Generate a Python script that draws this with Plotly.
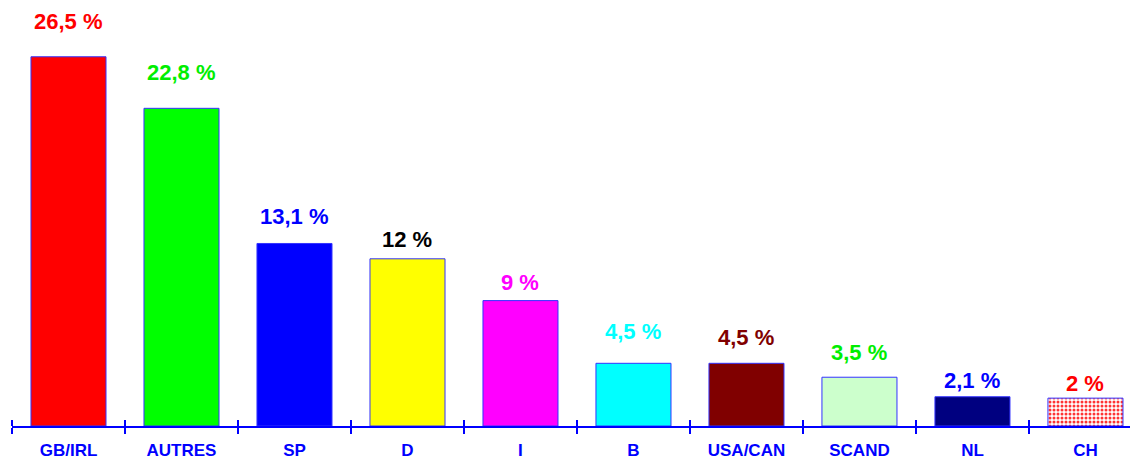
import plotly.graph_objects as go

categories = ['GB/IRL', 'AUTRES', 'SP', 'D', 'I', 'B', 'USA/CAN', 'SCAND', 'NL', 'CH']
values = [26.5, 22.8, 13.1, 12, 9, 4.5, 4.5, 3.5, 2.1, 2]
labels = ['26,5 %', '22,8 %', '13,1 %', '12 %', '9 %', '4,5 %', '4,5 %', '3,5 %', '2,1 %', '2 %']

bar_colors = ['#ff0000', '#00ff00', '#0000ff', '#ffff00', '#ff00ff',
              '#00ffff', '#800000', '#ccffcc', '#000080', '#ff3333']
label_colors = ['#ff0000', '#00ee00', '#0000ff', '#000000', '#ff00ff',
                '#00ffff', '#800000', '#00ee00', '#0000ff', '#ff0000']
# gap in px between bar top and label baseline
label_gap = [27, 27, 18, 11, 10, 23, 17, 16, 8, 6]

FONT = 'Liberation Sans, Arial, sans-serif'
AXIS_BLUE = '#0000ff'

shapes = [''] * 9 + ['.']
dot_bg = ['#fff2f2'] * 10

fig = go.Figure()
fig.add_trace(go.Bar(
    x=categories, y=values,
    marker=dict(color=bar_colors,
                line=dict(color='#3333ff', width=1),
                pattern=dict(shape=shapes, bgcolor=dot_bg,
                             size=4, solidity=0.45, fillmode='replace')),
    width=0.664, showlegend=False, hoverinfo='skip'))

# invisible twin axis giving the upward half of the tick marks
fig.add_trace(go.Bar(x=categories, y=values, xaxis='x2', opacity=0,
                     showlegend=False, hoverinfo='skip'))

for c, v, t, col, g in zip(categories, values, labels, label_colors, label_gap):
    fig.add_annotation(x=c, y=v, text='<b>%s</b>' % t, showarrow=False,
                       yanchor='bottom', yshift=g - 6,
                       font=dict(family=FONT, size=22, color=col))

xr = [-0.5, 9.465]
# page body has an 8px margin, so the figure is sized to fit the window
fig.update_layout(
    width=1130, height=451,
    margin=dict(l=4, r=0, t=0, b=33),
    plot_bgcolor='white', paper_bgcolor='white',
    barmode='overlay',
    xaxis=dict(type='category', range=xr, showline=True, linecolor=AXIS_BLUE,
               linewidth=2, ticks='outside', tickson='boundaries', ticklen=6,
               tickwidth=2, tickcolor=AXIS_BLUE, showgrid=False, zeroline=False,
               ticklabelstandoff=8, automargin=False,
               tickfont=dict(family=FONT, size=17, color=AXIS_BLUE),
               tickprefix='<b>', ticksuffix='</b>'),
    xaxis2=dict(type='category', range=xr, overlaying='x', anchor='free',
                position=0, side='top', automargin=False,
                ticks='outside', tickson='boundaries', ticklen=6, tickwidth=2,
                tickcolor=AXIS_BLUE, showticklabels=False, showline=False,
                showgrid=False, zeroline=False),
    yaxis=dict(range=[0, 30.0], visible=False, showgrid=False, zeroline=False),
)

fig.write_html('out.html')
